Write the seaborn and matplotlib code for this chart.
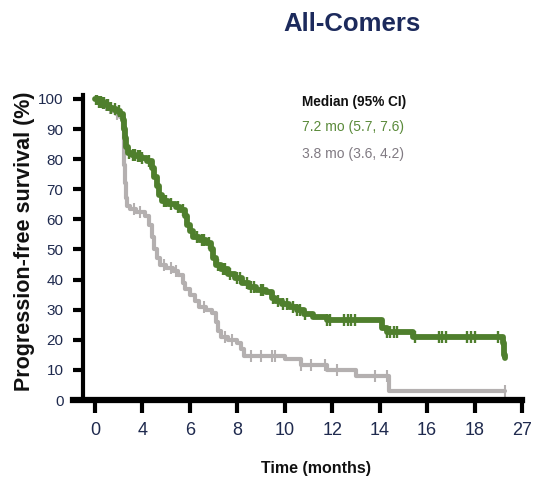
import numpy as np
import pandas as pd
import matplotlib
matplotlib.use("Agg")
import matplotlib.pyplot as plt
import seaborn as sns

# ---------------- data ----------------
tick_months = [0, 4, 6, 8, 10, 12, 14, 16, 18, 27]
y_ticks = [0, 10, 20, 30, 40, 50, 60, 70, 80, 90, 100]

green_time = [0, 0.3, 0.6, 0.9, 1.2, 1.5, 1.8, 2.1, 2.35, 2.45, 2.55, 2.65, 2.8, 3.1, 3.5,
              3.9, 4.2, 4.4, 4.5, 4.6, 4.7, 4.85, 5.1, 5.4, 5.6, 5.8, 5.9, 6.0, 6.15, 6.4,
              6.7, 6.9, 7.0, 7.1, 7.3, 7.6, 7.9, 8.2, 8.5, 8.8, 9.2, 9.45, 9.6, 9.9, 10.2,
              10.5, 10.8, 11.2, 11.8, 14.1, 14.3, 15.4, 23.45, 23.55, 23.65, 23.75]
green_pfs = [100, 99, 98.5, 98, 97, 96.5, 96, 95, 93, 90, 87, 84, 82, 81.5, 81,
             80.5, 79.5, 77, 74, 71, 68, 66, 65, 64, 63, 61, 58, 56, 54, 53,
             52, 50, 47, 45, 43.5, 42, 40.5, 39, 37.5, 36.5, 36, 34, 33, 32, 31,
             30, 28.5, 27.5, 26.5, 24, 22.5, 21, 19, 17, 15, 14]
green_censor = [0.1, 0.2, 0.35, 0.5, 0.65, 0.8, 1.0, 1.1, 1.4, 1.7, 2.0, 2.9, 3.2, 3.4, 3.6,
                3.8, 4.0, 4.3, 4.9, 5.0, 5.2, 5.5, 5.7, 6.3, 6.5, 6.6, 6.8, 7.2, 7.4, 7.5,
                7.7, 8.0, 8.1, 8.4, 8.6, 8.7, 9.0, 9.1, 9.5, 9.7, 9.95, 10.1, 10.35, 10.5,
                10.65, 10.85, 11.8, 11.9, 12.5, 12.65, 12.8, 12.95, 14.3, 14.45, 14.6,
                14.75, 15.5, 16.5, 16.65, 16.8, 17.7, 17.85, 18.0, 22.4]

grey_time = [0, 0.3, 0.6, 1.0, 1.4, 1.8, 2.1, 2.35, 2.45, 2.5, 2.55, 2.6, 2.7, 3.0, 3.5,
             4.1, 4.3, 4.4, 4.5, 4.6, 4.75, 5.0, 5.3, 5.5, 5.7, 5.8, 6.0, 6.2, 6.4, 6.7,
             6.95, 7.1, 7.2, 7.3, 7.6, 8.0, 8.15, 8.3, 10.0, 10.7, 11.8, 13.0, 14.4, 23.7]
grey_pfs = [100, 99, 98, 97, 96, 95, 94, 90, 84, 78, 72, 67, 64.5, 63.5, 62.5,
            61, 58, 54, 50, 47, 45, 44, 43, 41.5, 39, 37, 35, 33, 31, 30,
            29, 26, 23, 21, 20, 19, 17, 14.5, 13.5, 11.5, 10, 8, 3, 3]
grey_censor = [0.4, 0.9, 1.3, 1.9, 3.3, 3.8, 4.9, 5.2, 5.4, 6.6, 7.5, 7.8, 8.6, 9.0,
               9.45, 9.6, 10.7, 11.1, 11.7, 12.2, 13.8, 14.3, 23.7]

arms = ["Green arm", "Grey arm"]
median_labels = ["7.2 mo (5.7, 7.6)", "3.8 mo (3.6, 4.2)"]

GREEN = "#4f7f2d"
GREY = "#b4b0b0"
NAVY = "#1c2a5c"
TICKC = "#1f2a4e"

# ---------------- build tables ----------------
def step_at(times, vals, c):
    times = np.asarray(times); vals = np.asarray(vals)
    idx = np.searchsorted(times, c, side="right") - 1
    return vals[np.clip(idx, 0, len(vals) - 1)]

curves = pd.concat([
    pd.DataFrame({"time": green_time, "pfs": green_pfs, "arm": arms[0]}),
    pd.DataFrame({"time": grey_time, "pfs": grey_pfs, "arm": arms[1]}),
])
cens_g = pd.DataFrame({"time": green_censor,
                       "pfs": step_at(green_time, green_pfs, green_censor), "arm": arms[0]})
cens_r = pd.DataFrame({"time": grey_censor,
                       "pfs": step_at(grey_time, grey_pfs, grey_censor), "arm": arms[1]})

# ---------------- figure ----------------
sns.set_style("white")
plt.rcParams["font.family"] = ["Liberation Sans", "DejaVu Sans"]

fig = plt.figure(figsize=(5.33, 4.86), dpi=100)
ax = fig.add_axes([73 / 533, (486 - 400) / 486, 449 / 533, 305 / 486])

T = np.array(tick_months, float)
P = np.arange(len(tick_months), dtype=float)

def fwd(m):
    m = np.asarray(m, float)
    return np.where(m < 0, m / 4.0, np.interp(m, T, P))

def inv(p):
    p = np.asarray(p, float)
    return np.where(p < 0, p * 4.0, np.interp(p, P, T))

ax.set_xscale("function", functions=(fwd, inv))

sns.lineplot(data=curves[curves.arm == arms[1]], x="time", y="pfs", color=GREY,
             drawstyle="steps-post", linewidth=3.0, estimator=None, sort=False,
             legend=False, ax=ax, zorder=2)
sns.scatterplot(data=cens_r, x="time", y="pfs", color=GREY, marker="|", s=70,
                linewidth=1.5, legend=False, ax=ax, zorder=2)
sns.lineplot(data=curves[curves.arm == arms[0]], x="time", y="pfs", color=GREEN,
             drawstyle="steps-post", linewidth=4.2, estimator=None, sort=False,
             legend=False, ax=ax, zorder=3)
sns.scatterplot(data=cens_g, x="time", y="pfs", color=GREEN, marker="|", s=75,
                linewidth=1.7, legend=False, ax=ax, zorder=3)

ax.set_xlim(-0.46 * 4, 27)
ax.set_ylim(0, 101.3)
ax.set_xticks(tick_months)
ax.set_xticklabels([str(t) for t in tick_months])
ax.xaxis.set_minor_locator(matplotlib.ticker.NullLocator())
ax.set_yticks(y_ticks)
ax.set_yticklabels([str(v) for v in y_ticks])

for s in ["top", "right"]:
    ax.spines[s].set_visible(False)
ax.spines["left"].set_position(("data", -1.01))
ax.spines["left"].set_linewidth(3.0)
ax.spines["bottom"].set_linewidth(4.5)
ax.spines["left"].set_color("black")
ax.spines["bottom"].set_color("black")

ax.tick_params(axis="x", direction="out", length=9.5, width=3, color="black",
               labelsize=13, labelcolor=TICKC, pad=6, bottom=True)
ax.tick_params(axis="y", direction="out", length=7, width=3, color="black",
               labelsize=11, labelcolor=TICKC, pad=7, left=True)

ax.set_xlabel("Time (months)", fontsize=11.5, fontweight="bold", color="#111111")
ax.xaxis.set_label_coords((316 - 73) / 449, (400 - 468) / 305)
ax.xaxis.label.set_va("center")
ax.set_ylabel("Progression-free survival (%)", fontsize=15.5, fontweight="bold",
              color="#111111")
ax.yaxis.set_label_coords((25 - 73) / 449, (400 - 241) / 305)
ax.yaxis.label.set_va("center")

fig.text(352 / 533, 1 - 24 / 486, "All-Comers", ha="center", va="center",
         fontsize=18.5, fontweight="bold", color=NAVY)
fig.text(302 / 533, 1 - 102 / 486, "Median (95% CI)", ha="left", va="center",
         fontsize=9.8, fontweight="bold", color="#111111")
fig.text(302 / 533, 1 - 127 / 486, median_labels[0], ha="left", va="center",
         fontsize=10, color="#5a8a3a")
fig.text(302 / 533, 1 - 154 / 486, median_labels[1], ha="left", va="center",
         fontsize=10, color="#807a82")

fig.savefig("out.png", dpi=100)
